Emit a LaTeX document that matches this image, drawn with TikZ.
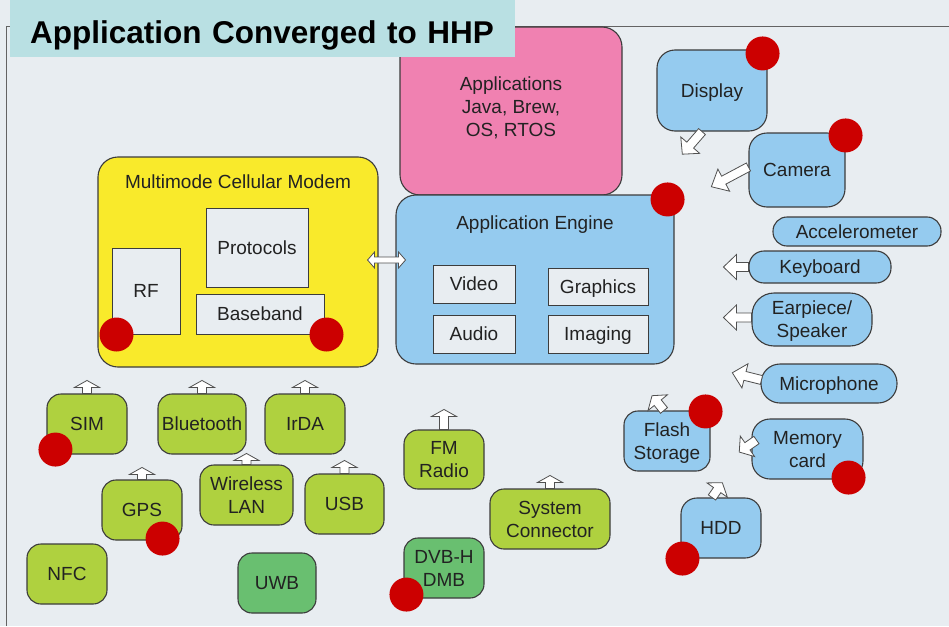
\documentclass[tikz,border=0pt]{standalone}
\usepackage{fontspec}
\setmainfont{Liberation Sans}
\usepackage{xcolor}
\usetikzlibrary{calc,positioning}
\definecolor{bgx}{HTML}{E8EDF1}
\definecolor{titlex}{HTML}{B9E0E3}
\definecolor{pinkx}{HTML}{F081B1}
\definecolor{yellowx}{HTML}{F9EA2B}
\definecolor{bluex}{HTML}{95CBEF}
\definecolor{greenx}{HTML}{AFD13F}
\definecolor{dgreenx}{HTML}{69BF70}
\definecolor{redx}{HTML}{CC0000}
\definecolor{edgex}{HTML}{3C3C3C}
\definecolor{textx}{HTML}{222222}
\newcommand\labfont{\fontsize{19}{23}\selectfont}
\tikzset{
  box/.style={draw=edgex,line width=1.1pt,rounded corners=14pt,align=center,text=textx,inner sep=2pt,
    font=\labfont,text height=14pt,text depth=0.4pt},
  two/.style={text height=37pt},
  big/.style={box,rounded corners=20pt},
  inner/.style={box,line width=1pt,rounded corners=0pt,fill=bgx},
  gnode/.style={box,fill=greenx,minimum height=60},
  dnode/.style={box,fill=dgreenx,minimum height=60},
  bnode/.style={box,fill=bluex},
  pill/.style={bnode,rounded corners=#1},
  dot/.style={circle,fill=redx,minimum size=34,inner sep=0pt},
  arrline/.style={draw=edgex!90,line width=0.8pt,fill=white,line join=miter},
  pics/blockarr/.style 2 args={code={
    \draw[arrline] (0,-4.5)--(#1-#2,-4.5)--(#1-#2,-12.5)--(#1,0)--(#1-#2,12.5)--(#1-#2,4.5)--(0,4.5)--cycle;}},
  pics/dblarr/.style={code={
    \draw[arrline] (-12,-3)--(12,-3)--(12,-8)--(19,0)--(12,8)--(12,3)--(-12,3)--(-12,8)--(-19,0)--(-12,-8)--cycle;}}
}
\begin{document}
\begin{tikzpicture}[x=1pt,y=-1pt]
\useasboundingbox (0,0) rectangle (949,626);
\fill[bgx] (0,0) rectangle (949,626);
\draw[edgex!80,line width=1pt] (6,626)--(6,27)--(949,27);
% core blocks
\node[big,fill=pinkx,minimum width=222,minimum height=168,text height=52pt] (apps) at (511,111) {Applications\\Java, Brew,\\OS, RTOS};
\node[big,fill=yellowx,minimum width=280,minimum height=210] (modem) at (238,262) {};
\node[text=textx,font=\labfont] (modemlbl) at (238,182) {Multimode Cellular Modem};
\node[inner,minimum width=102,minimum height=79] (proto) at (257,247.5) {Protocols};
\node[inner,minimum width=68,minimum height=86] (rf) at (146,291) {RF};
\node[inner,minimum width=128,minimum height=40] (base) at (260,314) {Baseband};
\node[big,fill=bluex,minimum width=278,minimum height=169] (engine) at (535,279.5) {};
\node[text=textx,font=\labfont] (enginelbl) at (535,225) {Application Engine};
\node[inner,minimum width=82,minimum height=38] (video) at (474,284) {Video};
\node[inner,minimum width=100,minimum height=37] (graph) at (598,286.5) {Graphics};
\node[inner,minimum width=82,minimum height=38] (audio) at (474,334) {Audio};
\node[inner,minimum width=100,minimum height=38] (imag) at (598,334) {Imaging};
\pic at ([xshift=8,yshift=2]modem.east) {dblarr};
% peripherals, right side
\node[bnode,minimum width=110,minimum height=81,rounded corners=18pt] (display) at (712,90.5) {Display};
\node[bnode,minimum width=96,minimum height=74,rounded corners=18pt] (camera) at (797,170) {Camera};
\node[pill=14pt,minimum width=168,minimum height=29] (accel) at (857,231.5) {Accelerometer};
\node[pill=15pt,minimum width=142,minimum height=32] (keyb) at (820,267) {Keyboard};
\node[pill=22pt,two,minimum width=120,minimum height=53] (ear) at (812,319.5) {Earpiece/\\Speaker};
\node[pill=19pt,minimum width=136,minimum height=39] (mic) at (829,383.5) {Microphone};
\node[bnode,two,minimum width=86,minimum height=60] (flash) at (667,441) {Flash\\Storage};
\node[bnode,two,minimum width=111,minimum height=60,rounded corners=18pt] (memc) at (807.5,449) {Memory\\card};
\node[bnode,minimum width=80,minimum height=60,rounded corners=16pt] (hdd) at (721,528) {HDD};
\pic[rotate=229] at ([xshift=-10]display.south) {blockarr={30}{12}};
\pic[rotate=208] at ([yshift=3]camera.west) {blockarr={42}{14}};
\pic[rotate=180] at (keyb.west) {blockarr={25}{13}};
\pic[rotate=180] at ([yshift=2]ear.west) {blockarr={28}{13}};
\pic[rotate=166] at ([xshift=1,yshift=3.5]mic.west) {blockarr={30}{13}};
\pic[rotate=129] at ([xshift=-3]flash.north) {blockarr={19}{9}};
\pic[rotate=215] at ([xshift=5,yshift=9]memc.west) {blockarr={21}{10}};
\pic[rotate=55] at ([xshift=-9]hdd.north) {blockarr={18}{9}};
% connectivity, bottom
\node[gnode,minimum width=80] (sim) at (87,424) {SIM};
\node[gnode,minimum width=88] (bt) at (202,424) {Bluetooth};
\node[gnode,minimum width=80] (irda) at (305,424) {IrDA};
\node[gnode,minimum width=80] (gps) at (142,510) {GPS};
\node[gnode,two,minimum width=93] (wlan) at (246.5,495) {Wireless\\LAN};
\node[gnode,minimum width=79] (usb) at (344.5,504) {USB};
\node[gnode,minimum width=80] (nfc) at (67,574) {NFC};
\node[dnode,minimum width=78] (uwb) at (277,583) {UWB};
\node[gnode,two,minimum width=80,minimum height=59] (fm) at (444,459.5) {FM\\Radio};
\node[gnode,two,minimum width=120] (sysc) at (550,519) {System\\Connector};
\node[dnode,two,minimum width=80] (dvb) at (444,568) {DVB-H\\DMB};
\foreach \n/\len in {sim/13,bt/13,irda/13,gps/12,wlan/11,usb/13,fm/20,sysc/13}
  \pic[rotate=90] at (\n.north) {blockarr={\len}{7}};
% red markers
\node[dot] (d1) at ([shift={(-5,4)}]display.north east) {};
\node[dot] (d2) at ([shift={(0,3)}]camera.north east) {};
\node[dot] (d3) at ([shift={(-7,5)}]engine.north east) {};
\node[dot] (d4) at ([shift={(5,0)}]rf.south west) {};
\node[dot] (d5) at ([shift={(2,0)}]base.south east) {};
\node[dot] (d6) at ([shift={(9,-5)}]sim.south west) {};
\node[dot] (d7) at ([shift={(-20,-2)}]gps.south east) {};
\node[dot] (d8) at ([shift={(3,-4)}]dvb.south west) {};
\node[dot] (d9) at ([shift={(-5,1)}]flash.north east) {};
\node[dot] (d10) at ([shift={(-15,-2)}]memc.south east) {};
\node[dot] (d11) at ([shift={(2,0)}]hdd.south west) {};
% title
\node[fill=titlex,anchor=north west,minimum height=57,text width=465,inner xsep=20,inner ysep=0,
  text height=29.2pt,text depth=0pt,font=\fontsize{31.5}{36}\selectfont\bfseries,align=left] (title) at (10,0) {Application Converged to HHP};
\end{tikzpicture}
\end{document}
